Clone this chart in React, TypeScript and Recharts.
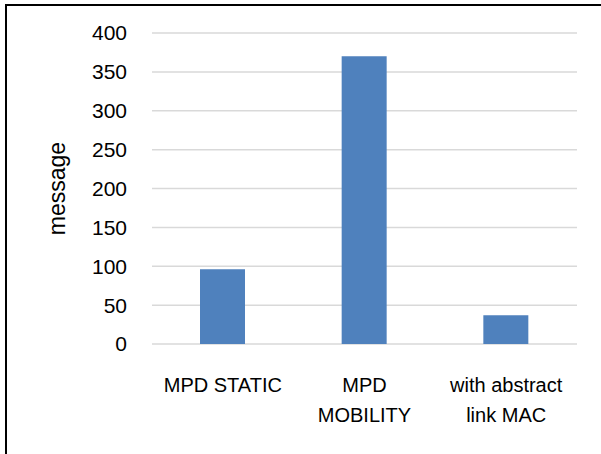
import { Bar, BarChart, CartesianGrid, XAxis, YAxis } from "recharts";

const categories = ["MPD STATIC", "MPD\nMOBILITY", "with abstract\nlink MAC"];
const messages = [96, 370, 37];
const yTicks = [0, 50, 100, 150, 200, 250, 300, 350, 400];

const data = categories.map((name, i) => ({ name, message: messages[i] }));

const font = "'Liberation Sans', Arial, sans-serif";

function CategoryTick({ x, y, payload }: any) {
  const lines = String(payload.value).split("\n");
  return (
    <text x={x} y={y} textAnchor="middle" fill="#000" fontSize={20} fontFamily={font}>
      {lines.map((line, i) => (
        <tspan key={i} x={x} dy={i === 0 ? 48 : 30}>
          {line}
        </tspan>
      ))}
    </text>
  );
}

export default function App() {
  return (
    <div
      style={{
        position: "fixed",
        left: 0,
        top: 0,
        width: 601,
        height: 454,
        overflow: "hidden",
        background: "#fff",
      }}
    >
      <div
        style={{
          position: "absolute",
          left: 5,
          top: 4,
          width: 700,
          height: 600,
          border: "2px solid #000",
          boxSizing: "border-box",
        }}
      />
      <BarChart
        width={601}
        height={454}
        data={data}
        margin={{ top: 33, right: 24, bottom: 30, left: 0 }}
        style={{ position: "absolute", left: 0, top: 0 }}
      >
        <CartesianGrid vertical={false} stroke="#d9d9d9" strokeWidth={1.5} />
        <XAxis
          dataKey="name"
          height={80}
          axisLine={false}
          tickLine={false}
          tickSize={0}
          tickMargin={0}
          interval={0}
          tick={<CategoryTick />}
        />
        <YAxis
          width={152}
          domain={[0, 400]}
          ticks={yTicks}
          axisLine={false}
          tickLine={false}
          tickSize={0}
          tickMargin={25}
          tick={{ fill: "#000", fontSize: 21, fontFamily: font }}
          label={{
            value: "message",
            angle: -90,
            position: "insideLeft",
            offset: 57,
            fill: "#000",
            fontSize: 23,
            fontFamily: font,
            style: { textAnchor: "middle" },
          }}
        />
        <Bar dataKey="message" fill="#4f81bd" barSize={45} isAnimationActive={false} />
      </BarChart>
    </div>
  );
}
